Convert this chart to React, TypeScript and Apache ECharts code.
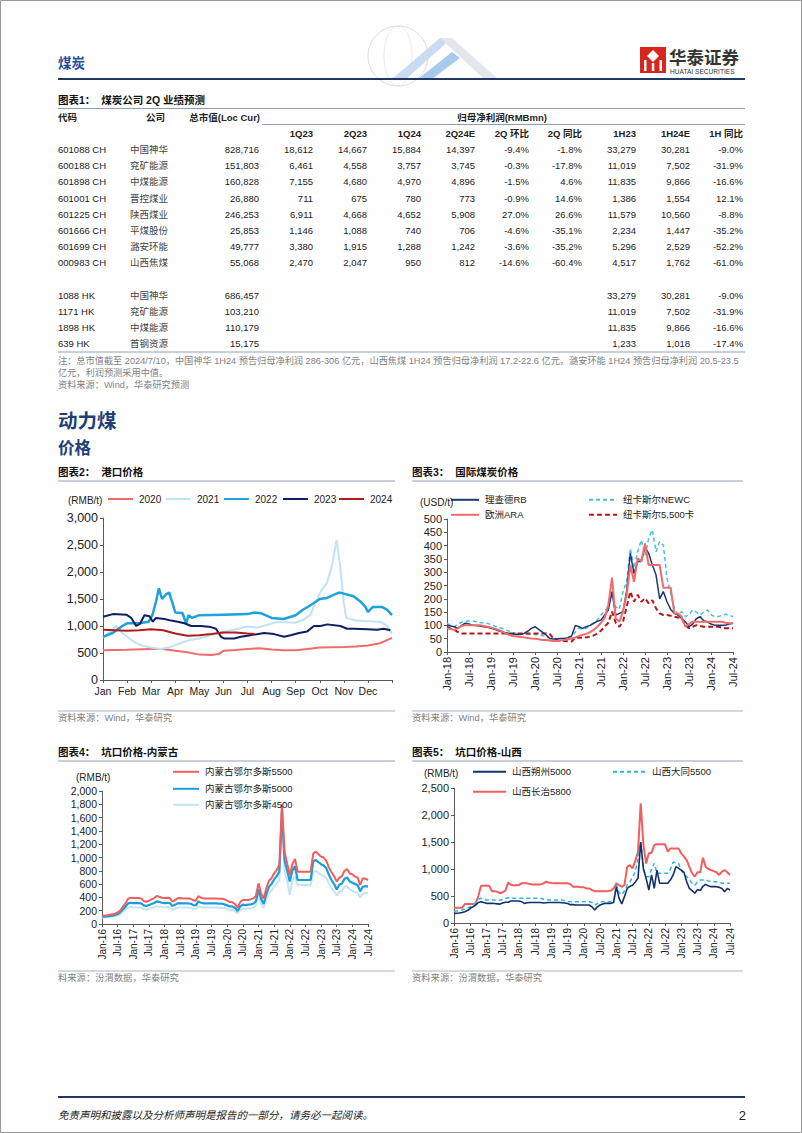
import React, { useEffect, useRef } from 'react';
import * as echarts from 'echarts';

const FONT = '"Liberation Sans", Arial, "Noto Sans CJK SC", sans-serif';

// ---------------- Table data ----------------
const codesA = ['601088 CH', '600188 CH', '601898 CH', '601001 CH', '601225 CH', '601666 CH', '601699 CH', '000983 CH'];
const namesA = ['中国神华', '兖矿能源', '中煤能源', '晋控煤业', '陕西煤业', '平煤股份', '潞安环能', '山西焦煤'];
const mcapA = [828716, 151803, 160828, 26880, 246253, 25853, 49777, 55068];
const q1_23 = [18612, 6461, 7155, 711, 6911, 1146, 3380, 2470];
const q2_23 = [14667, 4558, 4680, 675, 4668, 1088, 1915, 2047];
const q1_24 = [15884, 3757, 4970, 780, 4652, 740, 1288, 950];
const q2_24e = [14397, 3745, 4896, 773, 5908, 706, 1242, 812];
const qoq = [-9.4, -0.3, -1.5, -0.9, 27.0, -4.6, -3.6, -14.6];
const yoy = [-1.8, -17.8, 4.6, 14.6, 26.6, -35.1, -35.2, -60.4];
const h1_23 = [33279, 11019, 11835, 1386, 11579, 2234, 5296, 4517];
const h1_24e = [30281, 7502, 9866, 1554, 10560, 1447, 2529, 1762];
const h1yoy = [-9.0, -31.9, -16.6, 12.1, -8.8, -35.2, -52.2, -61.0];

const codesH = ['1088 HK', '1171 HK', '1898 HK', '639 HK'];
const namesH = ['中国神华', '兖矿能源', '中煤能源', '首钢资源'];
const mcapH = [686457, 103210, 110179, 15175];
const h1_23H = [33279, 11019, 11835, 1233];
const h1_24eH = [30281, 7502, 9866, 1018];
const h1yoyH = [-9.0, -31.9, -16.6, -17.4];

const colHeaders = ['1Q23', '2Q23', '1Q24', '2Q24E', '2Q 环比', '2Q 同比', '1H23', '1H24E', '1H 同比'];

// ---------------- Chart 2: port prices (x = month of year) ----------------
const monthTicks = ['Jan', 'Feb', 'Mar', 'Apr', 'May', 'Jun', 'Jul', 'Aug', 'Sep', 'Oct', 'Nov', 'Dec'];
const port2020 = [[0, 550], [1, 560], [2, 575], [2.5, 575], [3, 540], [3.5, 515], [4, 470], [4.5, 462], [4.8, 480], [5, 540], [5.5, 555], [6, 575], [6.5, 590], [7, 565], [7.5, 550], [8, 550], [8.5, 575], [9, 600], [9.5, 605], [10, 610], [10.5, 620], [11, 640], [11.5, 680], [12, 780]];
const port2021 = [[0, 780], [0.25, 880], [0.55, 1000], [0.8, 870], [1, 800], [1.3, 700], [1.6, 640], [2, 600], [2.4, 575], [2.8, 610], [3.2, 680], [3.6, 740], [4, 770], [4.4, 820], [4.8, 870], [5.2, 910], [5.6, 950], [6, 990], [6.4, 970], [6.8, 1020], [7.2, 1070], [7.6, 1070], [8, 1060], [8.3, 1110], [8.6, 1200], [8.85, 1450], [9.05, 1650], [9.3, 1800], [9.5, 2100], [9.7, 2590], [9.85, 2100], [10, 1420], [10.1, 1150], [10.5, 1100], [11, 1090], [11.5, 1080], [11.8, 1000], [12, 850]];
const port2022 = [[0, 800], [0.4, 870], [0.8, 1000], [1, 1050], [1.5, 1050], [1.9, 1080], [2.05, 1200], [2.2, 1450], [2.32, 1700], [2.45, 1500], [2.6, 1580], [2.75, 1620], [2.9, 1400], [3, 1250], [3.3, 1240], [3.45, 1050], [3.55, 1200], [3.7, 1150], [4, 1200], [5, 1210], [6, 1220], [6.3, 1250], [6.6, 1230], [7, 1150], [7.5, 1130], [8, 1200], [8.3, 1300], [8.6, 1380], [9, 1500], [9.3, 1520], [9.6, 1580], [9.8, 1620], [10, 1600], [10.4, 1550], [10.7, 1450], [10.9, 1350], [11, 1260], [11.2, 1350], [11.6, 1350], [11.8, 1300], [12, 1200]];
const port2023 = [[0, 1170], [0.41, 1220], [0.97, 1210], [1.17, 1150], [1.38, 1000], [1.55, 1050], [1.72, 1200], [1.93, 1180], [2.07, 1080], [2.2, 1150], [2.55, 1130], [2.83, 1100], [3.1, 1080], [3.38, 1050], [3.66, 1000], [4.07, 1000], [4.48, 980], [4.69, 950], [4.9, 800], [5.03, 770], [5.45, 770], [5.72, 800], [6, 820], [6.69, 870], [7.1, 850], [7.52, 800], [7.79, 830], [8.14, 870], [8.48, 900], [8.76, 1000], [9.03, 1000], [9.31, 1030], [9.86, 1000], [10.14, 950], [10.41, 950], [10.97, 940], [11.38, 930], [11.66, 950], [11.93, 920]];
const port2024 = [[0, 930], [1, 910], [1.5, 920], [2, 940], [2.5, 920], [3, 860], [3.5, 820], [4, 830], [4.5, 850], [5, 880], [5.5, 880], [6, 860], [6.3, 850]];

// ---------------- Chart 3: international prices, monthly from Jan-18 ----------------
const intlTicks = ['Jan-18', 'Jul-18', 'Jan-19', 'Jul-19', 'Jan-20', 'Jul-20', 'Jan-21', 'Jul-21', 'Jan-22', 'Jul-22', 'Jan-23', 'Jul-23', 'Jan-24', 'Jul-24'];
const richardsBay = [
  101, 98, 95, 89, 100, 108, 105, 101, 100, 98, 95, 93,
  89, 85, 80, 76, 72, 70, 68, 66, 66, 70, 78, 89,
  95, 85, 75, 65, 51, 49, 50, 51, 51, 54, 60, 100,
  95, 89, 95, 100, 108, 115, 120, 139, 158, 227, 139, 145,
  152, 230, 371, 295, 340, 340, 395, 371, 327, 290, 200, 227,
  189, 160, 145, 139, 127, 114, 95, 105, 125, 133, 118, 114,
  105, 101, 101, 101, 101, 105, 108];
const europeARA = [
  89, 86, 83, 90, 98, 101, 101, 101, 101, 101, 98, 95,
  92, 88, 83, 78, 70, 64, 60, 58, 56, 55, 53, 51,
  50, 48, 45, 45, 43, 41, 41, 43, 45, 48, 51, 55,
  60, 64, 68, 75, 83, 95, 110, 127, 177, 280, 127, 114,
  152, 215, 327, 264, 352, 340, 408, 327, 327, 327, 327, 242,
  242, 242, 145, 145, 133, 95, 105, 114, 114, 114, 114, 114,
  114, 114, 114, 114, 110, 108, 108];
const newcastleNEWC = [
  108, 100, 95, 105, 112, 114, 117, 117, 114, 110, 110, 108,
  103, 98, 92, 89, 83, 78, 72, 70, 68, 66, 66, 66,
  66, 64, 62, 58, 51, 50, 49, 50, 52, 55, 58, 75,
  89, 85, 90, 100, 108, 120, 139, 155, 170, 215, 170, 160,
  227, 264, 390, 315, 377, 421, 364, 427, 459, 377, 415, 402,
  277, 221, 164, 139, 152, 133, 140, 158, 150, 139, 150, 158,
  140, 133, 133, 138, 142, 138, 133];
const newcastle5500 = [
  95, 88, 83, 75, 70, 70, 70, 70, 70, 70, 70, 70,
  70, 70, 70, 70, 70, 70, 70, 70, 70, 70, 70, 70,
  70, 70, 70, 70, 68, 51, 45, 41, 41, 40, 39, 55,
  54, 54, 55, 58, 62, 70, 80, 95, 110, 152, 110, 95,
  114, 170, 227, 189, 215, 189, 202, 183, 195, 164, 145, 139,
  139, 136, 133, 130, 127, 100, 89, 95, 101, 98, 95, 95,
  95, 95, 95, 92, 89, 89, 89];

// ---------------- Chart 4 & 5: mine-mouth prices, monthly from Jan-16 ----------------
const mineTicks = ['Jan-16', 'Jul-16', 'Jan-17', 'Jul-17', 'Jan-18', 'Jul-18', 'Jan-19', 'Jul-19', 'Jan-20', 'Jul-20', 'Jan-21', 'Jul-21', 'Jan-22', 'Jul-22', 'Jan-23', 'Jul-23', 'Jan-24', 'Jul-24'];
const ordos5500 = [
  125, 128, 132, 138, 145, 155, 175, 200, 260, 310, 380, 396,
  392, 390, 390, 385, 345, 335, 350, 370, 390, 420, 410, 395,
  390, 395, 390, 335, 360, 386, 390, 385, 385, 385, 380, 356,
  350, 420, 395, 385, 385, 385, 385, 385, 385, 380, 380, 370,
  350, 330, 326, 300, 246, 330, 361, 361, 361, 370, 385, 420,
  611, 461, 380, 536, 650, 687, 762, 812, 887, 1800, 1087, 912,
  737, 900, 977, 787, 787, 787, 787, 787, 787, 1063, 1088, 1050,
  1013, 1000, 950, 850, 780, 720, 637, 697, 720, 800, 827, 760,
  747, 712, 700, 587, 687, 680, 662];
const ordos5000 = [
  110, 112, 115, 120, 125, 135, 150, 175, 220, 260, 310, 320,
  315, 315, 315, 310, 280, 270, 285, 300, 315, 340, 330, 320,
  315, 320, 315, 270, 290, 310, 315, 310, 310, 310, 305, 285,
  280, 340, 320, 310, 310, 310, 310, 310, 310, 305, 305, 295,
  280, 265, 265, 240, 195, 265, 290, 285, 290, 295, 305, 340,
  520, 380, 300, 450, 560, 600, 670, 720, 790, 1700, 960, 800,
  640, 800, 870, 662, 662, 662, 662, 662, 662, 940, 962, 930,
  900, 880, 840, 740, 660, 600, 520, 590, 610, 680, 700, 640,
  620, 600, 590, 490, 560, 570, 561];
const ordos4500 = [
  95, 97, 100, 105, 110, 118, 130, 150, 190, 220, 250, 255,
  252, 250, 250, 245, 225, 215, 228, 240, 252, 270, 262, 255,
  250, 255, 250, 215, 230, 245, 250, 248, 248, 248, 245, 230,
  225, 265, 255, 248, 248, 248, 248, 248, 248, 245, 245, 238,
  225, 212, 212, 190, 160, 210, 232, 230, 232, 236, 245, 275,
  440, 300, 240, 370, 460, 500, 560, 610, 660, 1550, 780, 650,
  440, 650, 720, 587, 587, 587, 587, 587, 587, 780, 800, 770,
  740, 720, 690, 610, 540, 490, 430, 480, 500, 560, 570, 520,
  500, 480, 470, 400, 450, 470, 461];

const shuozhou5000 = [
  179, 180, 185, 195, 210, 230, 272, 300, 330, 380, 395, 380,
  364, 364, 364, 360, 355, 350, 370, 383, 383, 407, 407, 407,
  407, 395, 364, 375, 380, 380, 380, 380, 380, 370, 375, 380,
  380, 380, 380, 380, 375, 370, 360, 340, 340, 333, 333, 333,
  333, 333, 333, 300, 240, 300, 333, 350, 364, 364, 364, 380,
  673, 457, 352, 488, 640, 680, 700, 760, 827, 1500, 1000, 827,
  611, 890, 640, 980, 735, 735, 735, 735, 800, 890, 1043, 1012,
  980, 938, 765, 640, 600, 550, 620, 600, 680, 716, 690, 673,
  673, 673, 660, 641, 580, 641, 611];
const datong5500 = [
  222, 222, 230, 240, 260, 280, 302, 330, 380, 440, 457, 440,
  426, 426, 426, 426, 426, 420, 440, 460, 469, 460, 457, 457,
  457, 457, 457, 457, 457, 457, 457, 457, 457, 440, 440, 426,
  426, 426, 426, 426, 426, 410, 400, 395, 395, 395, 395, 395,
  395, 395, 395, 380, 333, 360, 395, 395, 395, 395, 400, 410,
  704, 560, 519, 600, 704, 760, 850, 951, 1200, 1500, 1012, 858,
  858, 1000, 1105, 920, 920, 920, 920, 920, 1000, 1123, 1123, 1100,
  980, 900, 858, 800, 735, 700, 760, 796, 796, 796, 780, 765,
  765, 765, 750, 735, 735, 735, 735];
const changzhi5800 = [
  284, 284, 284, 284, 352, 352, 352, 352, 355, 500, 690, 690,
  690, 690, 590, 590, 580, 550, 570, 600, 747, 710, 700, 700,
  705, 735, 735, 735, 720, 715, 715, 715, 715, 730, 765, 750,
  740, 735, 735, 735, 735, 735, 735, 720, 670, 670, 670, 660,
  660, 640, 640, 610, 590, 590, 590, 590, 590, 590, 600, 640,
  735, 700, 670, 700, 1040, 1070, 1010, 1150, 1320, 2215, 1450, 1100,
  1290, 1300, 1445, 1457, 1457, 1457, 1457, 1320, 1380, 1380, 1380, 1380,
  1290, 1230, 1165, 1040, 920, 860, 940, 940, 1210, 1040, 1000, 980,
  960, 940, 890, 950, 980, 940, 890];

const fmtN = (v: number) => v.toLocaleString('en-US');
const fmtP = (v: number) => v.toFixed(1) + '%';
const idx = (arr: number[]) => arr.map((v, i) => [i, v]);

function buildOption() {
  const g: any[] = [];
  const txt = (text: string, x: number, y: number, o: any = {}) =>
    g.push({
      type: 'text', silent: true, z: 10,
      style: {
        text, x, y, fill: o.fill ?? '#222', fontSize: o.size ?? 9.5,
        fontWeight: o.weight ?? 'normal', fontStyle: o.italic ? 'italic' : 'normal',
        fontFamily: FONT, align: o.align ?? 'left', textAlign: o.align ?? 'left',
        verticalAlign: 'middle', textVerticalAlign: 'middle',
      },
    });
  const ln = (x1: number, y1: number, x2: number, y2: number, stroke: string, lw = 1) =>
    g.push({ type: 'line', silent: true, shape: { x1, y1, x2, y2 }, style: { stroke, lineWidth: lw } });

  // page border
  g.push({ type: 'rect', silent: true, shape: { x: 0.5, y: 0.5, width: 801, height: 1132 }, style: { fill: 'none', stroke: '#9a9a9a', lineWidth: 1 } });

  // header decoration (globe + chevrons)
  g.push({ type: 'circle', silent: true, shape: { cx: 398, cy: 56, r: 30 }, style: { fill: 'none', stroke: '#d6dde7', lineWidth: 1 } });
  g.push({ type: 'ellipse', silent: true, shape: { cx: 398, cy: 56, rx: 14, ry: 30 }, style: { fill: 'none', stroke: '#e0e5ec', lineWidth: 0.8 } });
  g.push({ type: 'polygon', silent: true, shape: { points: [[392, 79], [440, 38], [452, 38], [406, 79]] }, style: { fill: '#c9dcf0' } });
  g.push({ type: 'polygon', silent: true, shape: { points: [[440, 38], [452, 38], [498, 79], [484, 79]] }, style: { fill: '#e3e7ed' } });
  g.push({ type: 'polygon', silent: true, shape: { points: [[418, 79], [452, 52], [460, 58], [432, 79]] }, style: { fill: '#a9c9ea' } });

  txt('煤炭', 58, 63, { size: 13.5, weight: 'bold', fill: '#1f4e9a' });
  ln(58, 79, 745, 79, '#1f3864', 2);

  // logo
  g.push({ type: 'rect', silent: true, shape: { x: 640, y: 47, width: 26, height: 26 }, style: { fill: '#d9261c' } });
  g.push({ type: 'polygon', silent: true, shape: { points: [[653, 50], [659, 56], [653, 62], [647, 56]] }, style: { fill: '#fff' } });
  g.push({ type: 'rect', silent: true, shape: { x: 644, y: 60, width: 2.5, height: 11 }, style: { fill: '#fff' } });
  g.push({ type: 'rect', silent: true, shape: { x: 651.8, y: 63, width: 2.5, height: 8 }, style: { fill: '#fff' } });
  g.push({ type: 'rect', silent: true, shape: { x: 659.5, y: 60, width: 2.5, height: 11 }, style: { fill: '#fff' } });
  txt('华泰证券', 669, 58, { size: 17.5, weight: 'bold', fill: '#333' });
  txt('HUATAI SECURITIES', 670, 71, { size: 6.6, fill: '#333' });

  // ---------- table ----------
  const colX = [313, 367, 421, 475, 529, 582, 636, 690, 743];
  const lineC = '#8ea0b8';
  txt('图表1：  煤炭公司 2Q 业绩预测', 58, 100, { size: 10.5, weight: 'bold', fill: '#111' });
  ln(58, 108.5, 745, 108.5, lineC, 1);
  txt('代码', 58, 117, { weight: 'bold' });
  txt('公司', 165, 117, { weight: 'bold', align: 'right' });
  txt('总市值(Loc Cur)', 260, 117, { weight: 'bold', align: 'right' });
  txt('归母净利润(RMBmn)', 502, 117, { weight: 'bold', align: 'center' });
  ln(262, 124.5, 745, 124.5, lineC, 1);
  colHeaders.forEach((h, i) => txt(h, colX[i], 133.5, { weight: 'bold', align: 'right' }));

  codesA.forEach((c, i) => {
    const y = 149.5 + i * 16.2;
    txt(c, 58, y);
    txt(namesA[i], 130, y, { fill: '#444' });
    txt(fmtN(mcapA[i]), 259, y, { align: 'right' });
    const vals = [fmtN(q1_23[i]), fmtN(q2_23[i]), fmtN(q1_24[i]), fmtN(q2_24e[i]), fmtP(qoq[i]), fmtP(yoy[i]), fmtN(h1_23[i]), fmtN(h1_24e[i]), fmtP(h1yoy[i])];
    vals.forEach((v, j) => txt(v, colX[j], y, { align: 'right' }));
  });
  codesH.forEach((c, i) => {
    const y = 295 + i * 16;
    txt(c, 58, y);
    txt(namesH[i], 130, y, { fill: '#444' });
    txt(fmtN(mcapH[i]), 259, y, { align: 'right' });
    txt(fmtN(h1_23H[i]), colX[6], y, { align: 'right' });
    txt(fmtN(h1_24eH[i]), colX[7], y, { align: 'right' });
    txt(fmtP(h1yoyH[i]), colX[8], y, { align: 'right' });
  });
  ln(58, 352, 745, 352, lineC, 1);
  const gray = '#7f7f7f';
  txt('注：总市值截至 2024/7/10，中国神华 1H24 预告归母净利润 286-306 亿元，山西焦煤 1H24 预告归母净利润 17.2-22.6 亿元，潞安环能 1H24 预告归母净利润 20.5-23.5', 58, 361, { size: 9.2, fill: gray });
  txt('亿元，利润预测采用中值。', 58, 372.5, { size: 9.2, fill: gray });
  txt('资料来源：Wind，华泰研究预测', 58, 384.5, { size: 9.2, fill: gray });

  txt('动力煤', 58, 421, { size: 19.5, weight: 'bold', fill: '#203f78' });
  txt('价格', 58, 448, { size: 16.5, weight: 'bold', fill: '#203f78' });

  // chart frames
  const frames = [
    { x1: 58, x2: 395, tY: 472, title: '图表2：  港口价格', sLine: 711, sY: 718, src: '资料来源：Wind，华泰研究' },
    { x1: 412, x2: 743, tY: 472, title: '图表3：  国际煤炭价格', sLine: 711, sY: 718, src: '资料来源：Wind，华泰研究' },
    { x1: 58, x2: 395, tY: 752, title: '图表4：  坑口价格-内蒙古', sLine: 971, sY: 978, src: '料来源：汾渭数据，华泰研究' },
    { x1: 412, x2: 743, tY: 752, title: '图表5：  坑口价格-山西', sLine: 971, sY: 978, src: '资料来源：汾渭数据，华泰研究' },
  ];
  frames.forEach((f) => {
    txt(f.title, f.x1, f.tY, { size: 10.5, weight: 'bold', fill: '#111' });
    ln(f.x1, f.tY + 9, f.x2, f.tY + 9, lineC, 1);
    ln(f.x1, f.sLine, f.x2, f.sLine, '#c3ccd8', 1.5);
    txt(f.src, f.x1, f.sY, { size: 9.3, fill: gray });
  });
  txt('(RMB/t)', 68, 500, { size: 10 });
  txt('(USD/t)', 420, 502, { size: 10 });
  txt('(RMB/t)', 76, 777, { size: 10 });
  txt('(RMB/t)', 424, 773, { size: 10 });

  // footer
  ln(58, 1097, 745, 1097, '#1f3864', 2);
  txt('免责声明和披露以及分析师声明是报告的一部分，请务必一起阅读。', 58, 1115, { size: 10.5, italic: true, fill: '#222' });
  txt('2', 746, 1115, { size: 13, align: 'right', fill: '#222' });

  // ---------- charts ----------
  const axisColor = '#5a5a5a';
  const yAxis = (gi: number, max: number, interval: number, size: number, comma = true) => ({
    type: 'value', gridIndex: gi, min: 0, max, interval,
    axisLine: { show: true, lineStyle: { color: axisColor } },
    axisTick: { show: true, length: 3, lineStyle: { color: axisColor } },
    splitLine: { show: false },
    axisLabel: { fontSize: size, color: '#222', fontFamily: FONT, margin: 5, formatter: (v: number) => (comma ? fmtN(v) : String(v)) },
  });
  const xAxisTicks = (gi: number, max: number, interval: number, labels: string[], rotate: number, size: number) => ({
    type: 'value', gridIndex: gi, min: 0, max, interval,
    axisLine: { show: true, onZero: false, lineStyle: { color: axisColor } },
    axisTick: { show: true, length: 3, lineStyle: { color: axisColor } },
    splitLine: { show: false },
    axisLabel: {
      fontSize: size, color: '#222', fontFamily: FONT, rotate, margin: rotate ? 5 : 6,
      showMaxLabel: true, showMinLabel: true,
      formatter: (v: number) => labels[Math.round(v / interval)] ?? '',
    },
  });

  const line = (name: string, data: any[], gi: number, color: string, width: number, dashed?: number[], z = 2) => ({
    name, type: 'line', xAxisIndex: gi, yAxisIndex: gi, data, symbol: 'none', showSymbol: false, z,
    lineStyle: { color, width, type: dashed ? dashed : 'solid' }, itemStyle: { color },
  });
  const leg = (name: string, left: number, cy: number, itemWidth: number, size: number) => ({
    data: [name], left, top: cy - 6, itemWidth, itemHeight: 12, padding: 0, itemGap: 0, selectedMode: false,
    itemStyle: { opacity: 0, borderWidth: 0 },
    textStyle: { fontSize: size, color: '#222', fontFamily: FONT, padding: [0, 0, 0, 1] },
  });

  const C = {
    salmon: '#f26b6b', pale: '#bfe2f5', blue: '#1ea1dc', navy: '#0f2060', darkred: '#b31b1b',
    rb: '#1c3a72', ara: '#f26b6b', newc: '#45bde6', n5500: '#b81616',
    o5500: '#f25e5e', o5000: '#1a9edb', o4500: '#c3e4f5',
    sz: '#12306a', dt: '#2fb3e0', cz: '#f25e5e',
  };

  return {
    animation: false,
    backgroundColor: '#ffffff',
    graphic: { elements: g },
    grid: [
      { left: 103, top: 518, width: 289, height: 162 },
      { left: 447, top: 519, width: 286, height: 133 },
      { left: 102, top: 791, width: 266, height: 133 },
      { left: 454, top: 788, width: 276, height: 135 },
    ],
    xAxis: [
      xAxisTicks(0, 12, 1, monthTicks, 0, 10.5),
      xAxisTicks(1, 78, 6, intlTicks, 90, 11),
      xAxisTicks(2, 102, 6, mineTicks, 90, 10),
      xAxisTicks(3, 102, 6, mineTicks, 90, 10),
    ],
    yAxis: [
      yAxis(0, 3000, 500, 12.5),
      yAxis(1, 500, 50, 11, false),
      yAxis(2, 2000, 200, 10.5),
      yAxis(3, 2500, 500, 11),
    ],
    legend: [
      leg('2020', 107, 500, 25, 10),
      leg('2021', 165, 500, 25, 10),
      leg('2022', 223, 500, 25, 10),
      leg('2023', 282, 500, 25, 10),
      leg('2024', 338, 500, 25, 10),
      leg('理查德RB', 450, 501, 28, 9.5),
      leg('纽卡斯尔NEWC', 588, 501, 28, 9.5),
      leg('欧洲ARA', 450, 516, 28, 9.5),
      leg('纽卡斯尔5,500卡', 588, 516, 28, 9.5),
      leg('内蒙古鄂尔多斯5500', 172, 773, 26, 9.5),
      leg('内蒙古鄂尔多斯5000', 172, 790, 26, 9.5),
      leg('内蒙古鄂尔多斯4500', 172, 806, 26, 9.5),
      leg('山西朔州5000', 472, 773, 33, 9.5),
      leg('山西大同5500', 612, 773, 33, 9.5),
      leg('山西长治5800', 472, 793, 33, 9.5),
    ],
    series: [
      line('2020', port2020, 0, C.salmon, 2),
      line('2021', port2021, 0, C.pale, 2),
      line('2022', port2022, 0, C.blue, 2.5),
      line('2023', port2023, 0, C.navy, 2),
      line('2024', port2024, 0, C.darkred, 2),

      line('纽卡斯尔NEWC', idx(newcastleNEWC), 1, C.newc, 1.5, [4, 3]),
      line('纽卡斯尔5,500卡', idx(newcastle5500), 1, C.n5500, 2, [5, 3]),
      line('理查德RB', idx(richardsBay), 1, C.rb, 1.5),
      line('欧洲ARA', idx(europeARA), 1, C.ara, 2),

      line('内蒙古鄂尔多斯4500', idx(ordos4500), 2, C.o4500, 2),
      line('内蒙古鄂尔多斯5000', idx(ordos5000), 2, C.o5000, 2.2),
      line('内蒙古鄂尔多斯5500', idx(ordos5500), 2, C.o5500, 2),

      line('山西长治5800', idx(changzhi5800), 3, C.cz, 2),
      line('山西大同5500', idx(datong5500), 3, C.dt, 1.5, [4, 3]),
      line('山西朔州5000', idx(shuozhou5000), 3, C.sz, 1.6),
    ],
  };
}

export default function App() {
  const ref = useRef<HTMLDivElement>(null);
  useEffect(() => {
    if (!ref.current) return;
    const chart = echarts.init(ref.current, null, { renderer: 'svg' });
    chart.setOption(buildOption() as any);
    return () => chart.dispose();
  }, []);
  return (
    <div
      ref={ref}
      style={{ position: 'absolute', left: 0, top: 0, width: 802, height: 1133, background: '#fff' }}
    />
  );
}
